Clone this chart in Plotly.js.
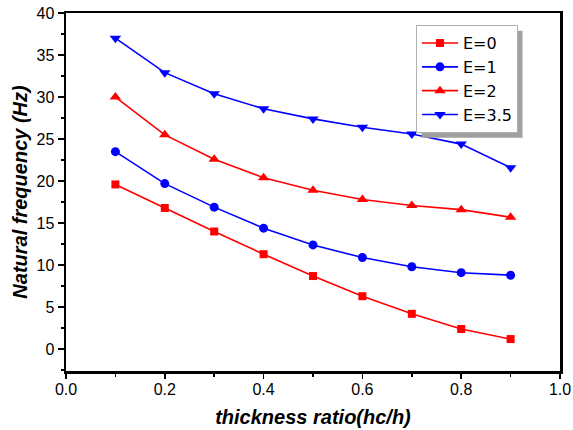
<!DOCTYPE html>
<html>
<head>
<meta charset="utf-8">
<script src="https://cdn.plot.ly/plotly-3.0.1.min.js"></script>
<style>html,body{margin:0;padding:0;background:#fff;}#chart{width:573px;height:430px;}</style>
</head>
<body>
<div id="chart"></div>
<script>
const ratio = [0.1, 0.2, 0.3, 0.4, 0.5, 0.6, 0.7, 0.8, 0.9];
const e0 = [19.6, 16.8, 14.0, 11.3, 8.7, 6.3, 4.2, 2.4, 1.2];
const e1 = [23.5, 19.7, 16.9, 14.4, 12.4, 10.9, 9.8, 9.1, 8.8];
const e2 = [30.0, 25.5, 22.6, 20.4, 18.9, 17.8, 17.1, 16.6, 15.7];
const e35 = [37.0, 32.9, 30.4, 28.6, 27.4, 26.4, 25.6, 24.4, 21.6];
const seriesNames = ['E=0', 'E=1', 'E=2', 'E=3.5'];
const xTickVals = [0, 0.2, 0.4, 0.6, 0.8, 1.0];
const xTickText = ['0.0', '0.2', '0.4', '0.6', '0.8', '1.0'];
const yTickVals = [0, 5, 10, 15, 20, 25, 30, 35, 40];

const mk = (y, name, color, symbol, size) => ({
  x: ratio, y: y, name: name, type: 'scatter', mode: 'lines+markers',
  line: {color: color, width: 1.6},
  marker: {color: color, symbol: symbol, size: size}
});

const traces = [
  mk(e0, seriesNames[0], '#ff0000', 'square', 8),
  mk(e1, seriesNames[1], '#0000ff', 'circle', 9),
  mk(e2, seriesNames[2], '#ff0000', 'triangle-up', 10),
  mk(e35, seriesNames[3], '#0000ff', 'triangle-down', 10)
];

const FONT = 'Arial, Liberation Sans, sans-serif';
const layout = {
  width: 573, height: 430,
  margin: {l: 66, r: 13, t: 13, b: 59},
  paper_bgcolor: '#fff', plot_bgcolor: '#fff',
  font: {family: FONT, color: '#000', size: 16},
  showlegend: true,
  legend: {
    x: 0.7085, y: 0.966, xanchor: 'left', yanchor: 'top',
    bgcolor: '#fff', bordercolor: '#b0b0b0', borderwidth: 1,
    font: {size: 16, family: 'DejaVu Sans'},
    tracegroupgap: 0, itemwidth: 36
  },
  xaxis: {
    range: [0, 1], tickvals: xTickVals, ticktext: xTickText,
    ticks: 'outside', ticklen: 5, tickwidth: 1.5, tickcolor: '#000',
    ticklabelstandoff: -3,
    minor: {dtick: 0.1, ticks: 'outside', ticklen: 3, tickwidth: 1.5, tickcolor: '#000'},
    showline: true, linecolor: '#000', linewidth: 2.5, mirror: true,
    showgrid: false, zeroline: false,
    tickfont: {size: 16},
    title: {text: 'thickness ratio(hc/h)', font: {size: 20, family: FONT, weight: 'bold', style: 'italic'}, standoff: 14}
  },
  yaxis: {
    range: [-2.6, 40], tickvals: yTickVals,
    ticks: 'outside', ticklen: 6, tickwidth: 1.5, tickcolor: '#000',
    minor: {dtick: 2.5, ticks: 'outside', ticklen: 3, tickwidth: 1.5, tickcolor: '#000'},
    showline: true, linecolor: '#000', linewidth: 2.5, mirror: true,
    showgrid: false, zeroline: false,
    tickfont: {size: 16},
    title: {text: 'Natural frequency (Hz)', font: {size: 20, family: FONT, weight: 'bold', style: 'italic'}, standoff: 4}
  },
  shapes: []
};

Plotly.newPlot('chart', traces, layout, {displayModeBar: false, staticPlot: true}).then(gd => {
  const bg = gd.querySelector('.legend .bg');
  if (!bg) return;
  const r = bg.getBoundingClientRect();
  const c = gd.getBoundingClientRect();
  const s = gd._fullLayout._size;
  const toX = px => (px - c.left - s.l) / s.w;
  const toY = py => 1 - (py - c.top - s.t) / s.h;
  const off = 5;
  Plotly.relayout(gd, {shapes: [{
    type: 'rect', xref: 'paper', yref: 'paper',
    x0: toX(r.left + off), x1: toX(r.right + off),
    y0: toY(r.bottom + off), y1: toY(r.top + off),
    fillcolor: '#a0a0a0', line: {width: 0}, layer: 'above'
  }]});
});
</script>
</body>
</html>
